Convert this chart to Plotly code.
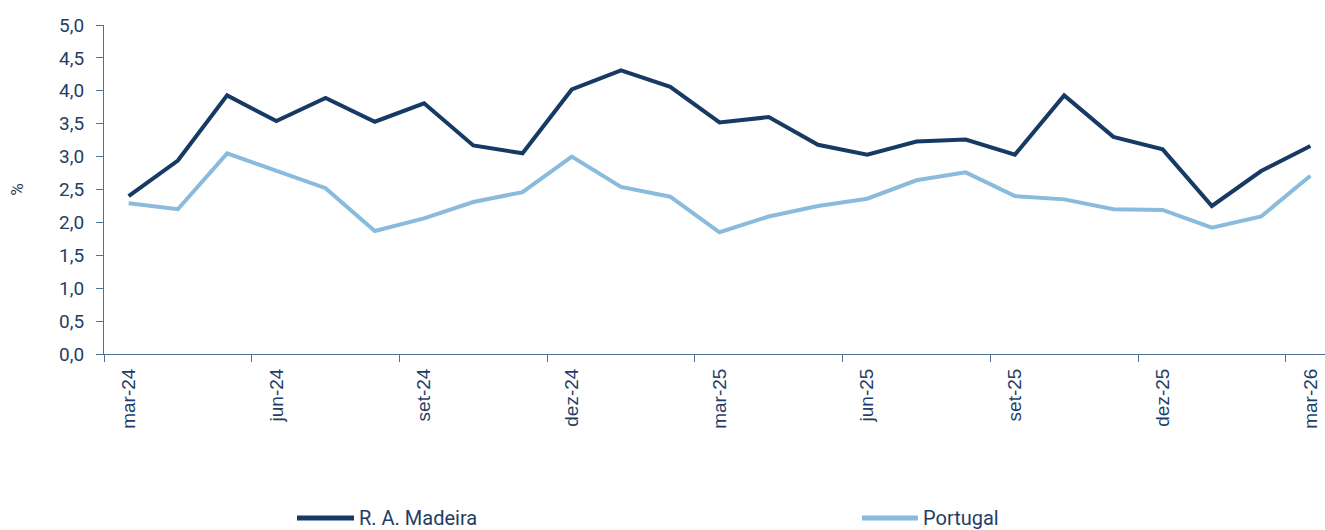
import plotly.graph_objects as go

months = ["mar-24", "abr-24", "mai-24", "jun-24", "jul-24", "ago-24", "set-24", "out-24", "nov-24",
          "dez-24", "jan-25", "fev-25", "mar-25", "abr-25", "mai-25", "jun-25", "jul-25", "ago-25",
          "set-25", "out-25", "nov-25", "dez-25", "jan-26", "fev-26", "mar-26"]
madeira = [2.40, 2.94, 3.93, 3.54, 3.89, 3.53, 3.81, 3.17, 3.05, 4.02, 4.31, 4.06, 3.52,
           3.60, 3.18, 3.03, 3.23, 3.26, 3.03, 3.93, 3.30, 3.11, 2.25, 2.78, 3.16]
portugal = [2.29, 2.20, 3.05, 2.79, 2.52, 1.87, 2.06, 2.31, 2.46, 3.00, 2.54, 2.39, 1.85,
            2.09, 2.25, 2.36, 2.64, 2.76, 2.40, 2.35, 2.20, 2.19, 1.92, 2.09, 2.71]
series_names = ["R. A. Madeira", "Portugal"]
yticks = [0, 0.5, 1, 1.5, 2, 2.5, 3, 3.5, 4, 4.5, 5]

DARK = "#163a63"
LIGHT = "#8abbdd"
TEXT = "#1f3d66"
AXIS = "#4f6f96"

fig = go.Figure()
fig.add_trace(go.Scatter(x=months, y=madeira, mode="lines", name=series_names[0],
                         line=dict(color=DARK, width=4), showlegend=False))
fig.add_trace(go.Scatter(x=months, y=portugal, mode="lines", name=series_names[1],
                         line=dict(color=LIGHT, width=4), showlegend=False))

# custom legend (line sample + label) placed below the plot
leg = [(series_names[0], DARK, 297, 354), (series_names[1], LIGHT, 862, 918)]
W, H = 1325, 530
ml, mr, mt, mb = 104, 0, 25, 176
pw, ph = W - ml - mr, H - mt - mb
for name, col, x0, x1 in leg:
    fx0 = (x0 - ml) / pw
    fx1 = (x1 - ml) / pw
    fy = (H - mb - 518) / ph
    fig.add_shape(type="line", xref="paper", yref="paper", x0=fx0, x1=fx1, y0=fy, y1=fy,
                  line=dict(color=col, width=5))
    fig.add_annotation(xref="paper", yref="paper", x=fx1 + 3 / pw, y=fy, text=name,
                       showarrow=False, xanchor="left", yanchor="middle",
                       font=dict(family="Roboto", size=20, color=TEXT))

fig.update_layout(
    width=W, height=H,
    margin=dict(l=ml, r=mr, t=mt, b=mb),
    plot_bgcolor="white", paper_bgcolor="white",
    separators=",.",
    font=dict(family="Roboto", size=18, color=TEXT),
)
fig.update_xaxes(
    type="category", categoryorder="array", categoryarray=months,
    range=[-0.5, 24.297], tickson="boundaries", dtick=3,
    ticks="outside", ticklen=7, tickcolor=AXIS, tickwidth=1,
    showline=True, linecolor=AXIS, linewidth=1, showgrid=False,
    tickangle=-90, ticklabelstandoff=6,
    tickfont=dict(family="Liberation Sans", size=19, color=TEXT),
)
fig.update_yaxes(
    range=[0, 5], tickvals=yticks, tickformat=".1f",
    ticks="outside", ticklen=7, tickcolor=AXIS, tickwidth=1,
    showline=True, linecolor=AXIS, linewidth=1, showgrid=False, zeroline=False,
    ticklabelstandoff=8,
    tickfont=dict(family="Roboto", size=19, color=TEXT),
    title=dict(text="%", font=dict(family="Roboto", size=17, color=TEXT), standoff=31),
)

fig.write_html(
    "out.html",
    config={"displayModeBar": False},
    post_script="document.body.style.margin='0';document.body.style.overflow='hidden';",
)
